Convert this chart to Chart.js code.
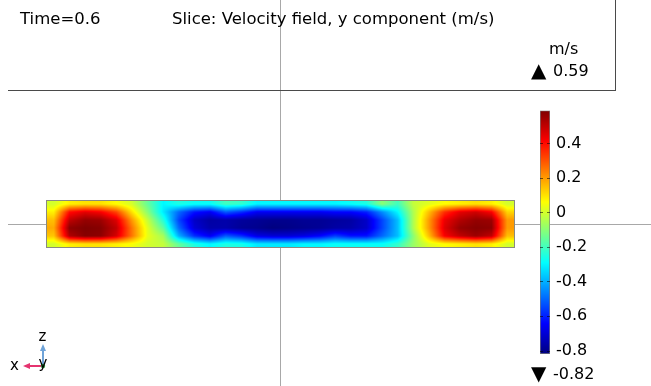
<!DOCTYPE html>
<html>
<head>
<meta charset="utf-8">
<script src="https://cdn.jsdelivr.net/npm/chart.js@4.4.1/dist/chart.umd.min.js"></script>
<style>
  html, body { margin: 0; padding: 0; background: #fff; }
  #wrap { position: relative; width: 651px; height: 386px; overflow: hidden;
          font-family: "DejaVu Sans", sans-serif; color: #000; }
  #main { position: absolute; left: 0; top: 0; }
  #cbar { position: absolute; left: 520px; top: 95px; }
  #frame { position: absolute; left: 8px; top: 0; width: 607px; height: 90px;
           border-right: 1px solid #4a4a4a; border-bottom: 1px solid #4a4a4a; }
  .t { position: absolute; font-size: 16.5px; line-height: 18px; white-space: nowrap; }
  .s { position: absolute; font-size: 16px; line-height: 18px; white-space: nowrap; }
  .tri { position: absolute; font-size: 20px; line-height: 18px; white-space: nowrap; }
  #triad { position: absolute; left: 0; top: 320px; }
</style>
</head>
<body>
<div id="wrap">
  <canvas id="main" width="651" height="386"></canvas>
  <div id="frame"></div>
  <div class="t" style="left:20px;top:10px">Time=0.6</div>
  <div class="t" style="left:172px;top:10px">Slice: Velocity field, y component (m/s)</div>
  <div class="s" style="left:549px;top:40px">m/s</div>
  <div class="tri" style="left:531px;top:61px">&#x25B2;</div>
  <div class="s" id="maxLabel" style="left:553px;top:62px"></div>
  <div class="tri" style="left:531px;top:364px">&#x25BC;</div>
  <div class="s" id="minLabel" style="left:553px;top:365px"></div>
  <canvas id="cbar" width="131" height="275"></canvas>
  <svg id="triad" width="70" height="66">
    <line x1="43" y1="46" x2="29" y2="46" stroke="#e5336f" stroke-width="2"/>
    <polygon points="23,46 30,43 30,49" fill="#e5336f"/>
    <line x1="43" y1="46" x2="43" y2="31" stroke="#6fa3d8" stroke-width="2"/>
    <polygon points="43,24 40,31 46,31" fill="#6fa3d8"/>
    <circle cx="43" cy="46" r="2.2" fill="#2e9e3e"/>
    <text x="38.5" y="21" font-family="DejaVu Sans" font-size="15">z</text>
    <text x="10" y="50" font-family="DejaVu Sans" font-size="15">x</text>
    <text x="38.5" y="48" font-family="DejaVu Sans" font-size="15">y</text>
  </svg>
</div>
<script>
// Slab sampling grid: column centres along x, row centres along z (top row first)
const xCenters = [-14.5, -13.5, -12.5, -11.5, -10.5, -9.5, -8.5, -7.5, -6.5, -5.5,
                  -4.5, -3.5, -2.5, -1.5, -0.5, 0.5, 1.5, 2.5, 3.5, 4.5,
                  5.5, 6.5, 7.5, 8.5, 9.5, 10.5, 11.5, 12.5, 13.5, 14.5];
const zCenters = [1.25, 0.75, 0.25, -0.25, -0.75, -1.25];
const slabX = [-15, 15];
const slabZ = [-1.5, 1.5];

// Velocity, y component (m/s), one array per row of the slice
const vRow1 = [0.00, 0.08, 0.10, 0.10, 0.06, 0.00, -0.15, -0.30, -0.25, -0.28,
               -0.28, -0.20, -0.22, -0.30, -0.30, -0.30, -0.30, -0.30, -0.30, -0.28,
               -0.25, -0.10, -0.20, -0.02, 0.02, 0.06, 0.08, 0.10, 0.08, 0.00];
const vRow2 = [0.08, 0.40, 0.45, 0.42, 0.32, 0.10, -0.10, -0.32, -0.50, -0.62,
               -0.66, -0.52, -0.58, -0.66, -0.66, -0.66, -0.66, -0.66, -0.64, -0.64,
               -0.60, -0.45, -0.30, -0.05, 0.15, 0.35, 0.45, 0.48, 0.42, 0.12];
const vRow3 = [0.15, 0.50, 0.56, 0.55, 0.46, 0.20, -0.02, -0.24, -0.55, -0.72,
               -0.77, -0.76, -0.78, -0.79, -0.80, -0.80, -0.79, -0.79, -0.78, -0.77,
               -0.72, -0.55, -0.38, -0.05, 0.20, 0.44, 0.52, 0.56, 0.55, 0.20];
const vRow4 = [0.18, 0.57, 0.59, 0.58, 0.50, 0.25, 0.02, -0.16, -0.50, -0.70,
               -0.76, -0.76, -0.79, -0.80, -0.82, -0.81, -0.80, -0.79, -0.77, -0.76,
               -0.72, -0.55, -0.38, -0.05, 0.20, 0.46, 0.56, 0.58, 0.57, 0.20];
const vRow5 = [0.14, 0.52, 0.58, 0.57, 0.47, 0.25, 0.03, -0.06, -0.40, -0.58,
               -0.66, -0.52, -0.58, -0.68, -0.70, -0.70, -0.68, -0.64, -0.56, -0.62,
               -0.62, -0.50, -0.38, -0.10, 0.15, 0.42, 0.50, 0.55, 0.50, 0.15];
const vRow6 = [0.00, 0.08, 0.10, 0.10, 0.08, 0.05, 0.00, -0.02, -0.15, -0.25,
               -0.30, -0.25, -0.26, -0.32, -0.32, -0.32, -0.30, -0.30, -0.28, -0.28,
               -0.28, -0.28, -0.22, -0.08, 0.02, 0.06, 0.08, 0.10, 0.08, 0.00];
const vRows = [vRow1, vRow2, vRow3, vRow4, vRow5, vRow6];

// Colour legend ticks
const colorbarTicks = [-0.8, -0.6, -0.4, -0.2, 0, 0.2, 0.4];
const colorbarLabels = ['-0.8', '-0.6', '-0.4', '-0.2', '0', '0.2', '0.4'];

const allValues = vRows.flat();
const fieldMin = Math.min(...allValues);
const fieldMax = Math.max(...allValues);

document.getElementById('maxLabel').textContent = fieldMax.toFixed(2);
document.getElementById('minLabel').textContent = fieldMin.toFixed(2);

// Rainbow (jet) colour table
function rainbow(t) {
  t = Math.min(1, Math.max(0, t));
  const f = a => Math.round(255 * Math.min(1, Math.max(0, 1.5 - Math.abs(4 * t - a))));
  return [f(3), f(2), f(1)];
}

const cellPoints = [];
vRows.forEach((row, r) => row.forEach((v, c) => cellPoints.push({ x: xCenters[c], y: zCenters[r], v })));

// Shade the slice by interpolating the sampled values between grid points
const sliceField = {
  id: 'sliceField',
  beforeDatasetsDraw(chart) {
    const meta = chart.getDatasetMeta(0);
    const xs = chart.scales.x, ys = chart.scales.y;
    const nc = xCenters.length;
    const colPx = xCenters.map((_, c) => meta.data[c].x);
    const rowPx = zCenters.map((_, r) => meta.data[r * nc].y);
    const x0 = Math.round(xs.getPixelForValue(slabX[0]));
    const x1 = Math.round(xs.getPixelForValue(slabX[1]));
    const y0 = Math.round(ys.getPixelForValue(slabZ[1]));
    const y1 = Math.round(ys.getPixelForValue(slabZ[0]));
    const W = x1 - x0, H = y1 - y0;
    const locate = (arr, p) => {
      const n = arr.length;
      if (p <= arr[0]) return [0, 0, 0];
      if (p >= arr[n - 1]) return [n - 1, n - 1, 0];
      let i = 0;
      while (i < n - 2 && p >= arr[i + 1]) i++;
      return [i, i + 1, (p - arr[i]) / (arr[i + 1] - arr[i])];
    };
    const off = document.createElement('canvas');
    off.width = W; off.height = H;
    const octx = off.getContext('2d');
    const img = octx.createImageData(W, H);
    for (let py = 0; py < H; py++) {
      const [r0, r1, tr] = locate(rowPx, y0 + py + 0.5);
      for (let px = 0; px < W; px++) {
        const [c0, c1, tc] = locate(colPx, x0 + px + 0.5);
        const a = vRows[r0][c0] * (1 - tc) + vRows[r0][c1] * tc;
        const b = vRows[r1][c0] * (1 - tc) + vRows[r1][c1] * tc;
        const v = a * (1 - tr) + b * tr;
        const [R, G, B] = rainbow((v - fieldMin) / (fieldMax - fieldMin));
        const k = (py * W + px) * 4;
        img.data[k] = R; img.data[k + 1] = G; img.data[k + 2] = B; img.data[k + 3] = 255;
      }
    }
    octx.putImageData(img, 0, 0);
    const ctx = chart.ctx;
    ctx.save();
    ctx.drawImage(off, x0, y0);
    ctx.strokeStyle = '#8a8a80';
    ctx.lineWidth = 1;
    ctx.strokeRect(x0 + 0.5, y0 + 0.5, W - 1, H - 1);
    ctx.restore();
  }
};

Chart.defaults.font.family = "'DejaVu Sans', sans-serif";
Chart.defaults.color = '#000';

const originAxis = {
  ticks: { display: false },
  border: { display: false },
  grid: { drawTicks: false, color: '#a8a8a8', lineWidth: 1 },
  afterBuildTicks: s => { s.ticks = [{ value: 0 }]; }
};

new Chart(document.getElementById('main'), {
  type: 'scatter',
  data: { datasets: [{ label: 'v_y', data: cellPoints, pointRadius: 0, pointHoverRadius: 0 }] },
  options: {
    responsive: false,
    animation: false,
    events: [],
    layout: { padding: { left: 8, right: 0, top: 0, bottom: 0 } },
    plugins: { legend: { display: false }, tooltip: { enabled: false } },
    scales: {
      x: Object.assign({ type: 'linear', min: -17.431, max: 23.699 }, originAxis),
      y: Object.assign({ type: 'linear', min: -10.125, max: 14.0 }, originAxis)
    }
  },
  plugins: [sliceField]
});

// Colour legend
const legendTicks = {
  id: 'legendTicks',
  afterDatasetsDraw(chart) {
    const ca = chart.chartArea, ys = chart.scales.y, ctx = chart.ctx;
    ctx.save();
    ctx.strokeStyle = 'rgba(0,0,0,0.55)';
    ctx.lineWidth = 1;
    colorbarTicks.forEach(v => {
      const y = Math.round(ys.getPixelForValue(v)) + 0.5;
      ctx.beginPath();
      ctx.moveTo(ca.left, y); ctx.lineTo(ca.left + 3, y);
      ctx.moveTo(ca.right - 3, y); ctx.lineTo(ca.right, y);
      ctx.stroke();
    });
    ctx.restore();
  }
};

new Chart(document.getElementById('cbar'), {
  type: 'bar',
  data: {
    labels: ['m/s'],
    datasets: [{
      data: [[fieldMin, fieldMax]],
      backgroundColor: ctx => {
        const chart = ctx.chart;
        if (!chart.chartArea) return '#888';
        const ys = chart.scales.y;
        const g = chart.ctx.createLinearGradient(0, ys.getPixelForValue(fieldMin), 0, ys.getPixelForValue(fieldMax));
        for (let i = 0; i <= 40; i++) {
          const [R, G, B] = rainbow(i / 40);
          g.addColorStop(i / 40, `rgb(${R},${G},${B})`);
        }
        return g;
      },
      borderColor: '#7a7a7a',
      borderWidth: 1,
      borderSkipped: false,
      barPercentage: 1,
      categoryPercentage: 1
    }]
  },
  options: {
    responsive: false,
    animation: false,
    events: [],
    layout: { padding: { left: 20, right: 0, top: 11, bottom: 16 } },
    plugins: { legend: { display: false }, tooltip: { enabled: false } },
    scales: {
      x: { display: false },
      y: {
        position: 'right',
        min: fieldMin,
        max: fieldMax,
        grid: { display: false, drawTicks: false },
        border: { display: false },
        ticks: {
          padding: 6,
          color: '#000',
          font: { size: 16 },
          callback: v => colorbarLabels[colorbarTicks.indexOf(v)]
        },
        afterBuildTicks: s => { s.ticks = colorbarTicks.map(v => ({ value: v })); },
        afterFit: s => { s.width = 101; }
      }
    }
  },
  plugins: [legendTicks]
});
</script>
</body>
</html>
